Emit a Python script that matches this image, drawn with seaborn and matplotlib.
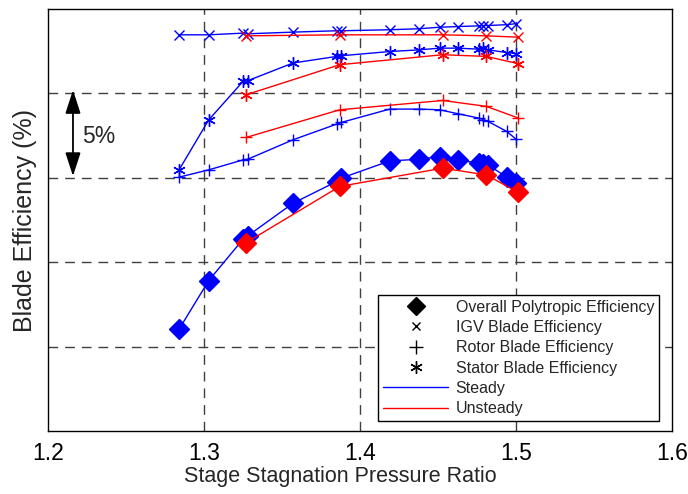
import matplotlib
matplotlib.use("Agg")
import matplotlib.pyplot as plt
from matplotlib.lines import Line2D
import seaborn as sns

# operating points (stage stagnation pressure ratio)
steady_pr = [1.284, 1.303, 1.325, 1.328, 1.357, 1.385, 1.388, 1.419,
             1.438, 1.451, 1.463, 1.476, 1.479, 1.482, 1.494, 1.500]
unsteady_pr = [1.327, 1.387, 1.453, 1.481, 1.5015]

# blade efficiencies (%), no absolute scale on the axis
overall_steady = [71.03, 73.91, 76.36, 76.56, 78.49, 79.78, 79.98, 81.00,
                  81.10, 81.26, 81.06, 80.86, 80.82, 80.77, 80.04, 79.68]
igv_steady = [88.47, 88.47, 88.57, 88.53, 88.63, 88.71, 88.71, 88.77,
              88.83, 88.92, 88.96, 89.00, 89.02, 89.02, 89.07, 89.13]
rotor_steady = [80.04, 80.47, 81.06, 81.10, 82.25, 83.18, 83.28, 84.07,
                84.07, 84.03, 83.79, 83.54, 83.45, 83.34, 82.75, 82.29]
stator_steady = [80.47, 83.43, 85.71, 85.75, 86.80, 87.19, 87.23, 87.48,
                 87.58, 87.68, 87.68, 87.62, 87.68, 87.58, 87.42, 87.35]

overall_unsteady = [76.16, 79.49, 80.57, 80.17, 79.13]
igv_unsteady = [88.41, 88.47, 88.47, 88.41, 88.33]
rotor_unsteady = [82.39, 84.03, 84.58, 84.23, 83.54]
stator_unsteady = [84.92, 86.70, 87.29, 87.19, 86.76]

legend_labels = ["Overall Polytropic Efficiency", "IGV Blade Efficiency",
                 "Rotor Blade Efficiency", "Stator Blade Efficiency",
                 "Steady", "Unsteady"]

sns.set_style("white")
plt.rcParams["font.family"] = ["Liberation Sans", "DejaVu Sans"]

fig = plt.figure(figsize=(6.88, 4.94), dpi=100)
ax = fig.add_axes([0.0698, 0.1275, 0.907, 0.8543])

star = (6, 2, 0)
series = [
    (steady_pr, overall_steady, "blue", "D", 10),
    (steady_pr, igv_steady, "blue", "x", 7),
    (steady_pr, rotor_steady, "blue", "+", 9),
    (steady_pr, stator_steady, "blue", star, 9),
    (unsteady_pr, overall_unsteady, "red", "D", 10),
    (unsteady_pr, igv_unsteady, "red", "x", 7),
    (unsteady_pr, rotor_unsteady, "red", "+", 9),
    (unsteady_pr, stator_unsteady, "red", star, 9),
]
for xs, ys, col, mk, ms in series:
    sns.lineplot(x=xs, y=ys, color=col, marker=mk, markersize=ms,
                 markeredgecolor=col, markerfacecolor=col, markeredgewidth=1.0,
                 linewidth=1.0, sort=False, estimator=None, ax=ax, zorder=3)

ax.set_xlim(1.2, 1.6)
ax.set_ylim(65, 90)
ax.set_xticks([1.2, 1.3, 1.4, 1.5, 1.6])
ax.set_xticklabels(["1.2", "1.3", "1.4", "1.5", "1.6"])
ax.set_yticks([65, 70, 75, 80, 85, 90])
ax.set_yticklabels([])
ax.tick_params(axis="both", direction="in", length=4, width=0.8,
               labelsize=16.5, pad=8, colors="black")
for x in [1.3, 1.4, 1.5]:
    ax.axvline(x, color="0.25", linewidth=1.0, dashes=(7, 5), zorder=1)
for y in [70, 75, 80, 85]:
    ax.axhline(y, color="0.25", linewidth=1.0, dashes=(7, 5), zorder=1)
for s in ax.spines.values():
    s.set_color("black")
    s.set_linewidth(1.0)

ax.set_xlabel("Stage Stagnation Pressure Ratio", fontsize=15.5)
ax.xaxis.set_label_coords(0.468, -0.083)
ax.set_ylabel("Blade Efficiency (%)", fontsize=18)
ax.yaxis.set_label_coords(-0.017, 0.5)

# 5% scale arrow
ax.annotate("", xy=(1.2160, 85.2), xytext=(1.2160, 80.1),
            arrowprops=dict(arrowstyle="<|-|>,head_length=0.8,head_width=0.26",
                            color="black", lw=1.3, mutation_scale=18,
                            shrinkA=0, shrinkB=0))
ax.text(1.2218, 82.45, "5%", fontsize=16.5, va="center", ha="left")

handles = [
    Line2D([], [], color="black", marker="D", linestyle="none", markersize=9),
    Line2D([], [], color="black", marker="x", linestyle="none", markersize=6),
    Line2D([], [], color="black", marker="+", linestyle="none", markersize=10),
    Line2D([], [], color="black", marker=star, linestyle="none", markersize=9),
    Line2D([], [], color="blue", linewidth=1.0),
    Line2D([], [], color="red", linewidth=1.0),
]
leg = ax.legend(handles, legend_labels, loc="lower right",
                bbox_to_anchor=(0.979, 0.024), borderaxespad=0, fontsize=11.5,
                frameon=True, fancybox=False, framealpha=1, edgecolor="black",
                handlelength=4.1, handletextpad=0.45, labelspacing=0.33,
                borderpad=0.3)
leg.get_frame().set_linewidth(1.0)
leg.set_zorder(5)

fig.savefig("out.png", dpi=100)
